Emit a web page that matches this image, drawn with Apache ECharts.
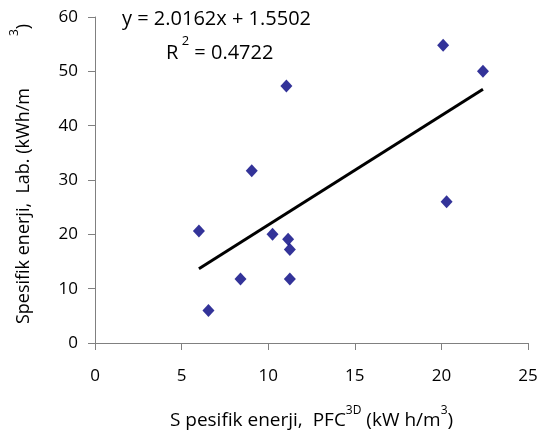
<!DOCTYPE html>
<html>
<head>
<meta charset="utf-8">
<script src="https://cdn.jsdelivr.net/npm/echarts@6/dist/echarts.min.js"></script>
<style>
html,body{margin:0;padding:0;background:#fff;}
#chart{width:542px;height:431px;}
</style>
</head>
<body>
<div id="chart"></div>
<script>
// Data
const pfcValues = [20.1, 22.4, 11.05, 9.05, 20.3, 6.0, 10.25, 11.15, 11.25, 8.4, 11.25, 6.55];
const labValues = [54.8, 50.0, 47.3, 31.7, 26.0, 20.6, 20.0, 19.1, 17.2, 11.8, 11.8, 6.0];
const xTicks = [0, 5, 10, 15, 20, 25];
const yTicks = [0, 10, 20, 30, 40, 50, 60];
const trendSlope = 2.0162;
const trendIntercept = 1.5502;
const trendRange = [6.0, 22.4];

const points = pfcValues.map((x, i) => [x, labValues[i]]);
const trendPoints = trendRange.map(x => [x, trendSlope * x + trendIntercept]);

const FONT = 'Open Sans';
const chart = echarts.init(document.getElementById('chart'), null, {renderer: 'canvas'});
chart.setOption({
  animation: false,
  backgroundColor: '#ffffff',
  grid: {left: 95, right: 14, top: 17, bottom: 88, containLabel: false, outerBoundsMode: 'none'},
  xAxis: {
    type: 'value', min: xTicks[0], max: xTicks[xTicks.length - 1], interval: 5,
    splitLine: {show: false},
    axisLine: {show: true, lineStyle: {color: '#808080', width: 1}},
    axisTick: {show: true, inside: false, length: 7, lineStyle: {color: '#808080'}},
    axisLabel: {color: '#000', fontSize: 17, fontFamily: FONT, margin: 25},
    name: '{n|S pesifik enerji,  PFC}{s|3D}{n| (kW h/m}{s|3}{n|)}',
    nameLocation: 'middle', nameGap: 62,
    nameTextStyle: {
      rich: {
        n: {fontSize: 19, fontFamily: FONT, color: '#000', lineHeight: 25, verticalAlign: 'bottom'},
        s: {fontSize: 12, fontFamily: FONT, color: '#000', lineHeight: 25, verticalAlign: 'top'}
      }
    }
  },
  yAxis: {
    type: 'value', min: yTicks[0], max: yTicks[yTicks.length - 1], interval: 10,
    splitLine: {show: false},
    axisLine: {show: true, lineStyle: {color: '#808080', width: 1}},
    axisTick: {show: true, inside: false, length: 7, lineStyle: {color: '#808080'}},
    axisLabel: {color: '#000', fontSize: 17, fontFamily: FONT, margin: 17},
    name: '{n|Spesifik enerji,  Lab. (kWh/m}{g|}{s|3}{n|)}',
    nameLocation: 'middle', nameGap: 62, nameRotate: 90,
    nameTextStyle: {
      padding: [0, 0, 0, 12],
      rich: {
        n: {fontSize: 18, fontFamily: FONT, color: '#000', lineHeight: 24, verticalAlign: 'bottom'},
        g: {width: 52, fontSize: 18, lineHeight: 24},
        s: {fontSize: 12, fontFamily: FONT, color: '#000', lineHeight: 24, verticalAlign: 'top'}
      }
    }
  },
  graphic: [
    {type: 'text', left: 122, top: 9, style: {text: 'y = 2.0162x + 1.5502', fontSize: 20, fontFamily: FONT, fill: '#000'}},
    {type: 'text', left: 166, top: 35, style: {
      text: '{n|R}{s| 2}{n| = 0.4722}',
      rich: {
        n: {fontSize: 20, fontFamily: FONT, fill: '#000', lineHeight: 28, verticalAlign: 'bottom'},
        s: {fontSize: 13, fontFamily: FONT, fill: '#000', lineHeight: 28, verticalAlign: 'top'}
      }
    }}
  ],
  series: [
    {
      type: 'line', data: trendPoints, showSymbol: false, symbol: 'none',
      lineStyle: {color: '#000', width: 3}, silent: true, z: 2
    },
    {
      type: 'scatter', data: points, symbol: 'diamond', symbolSize: [12, 13],
      itemStyle: {color: '#000080'}, z: 3
    }
  ]
});
</script>
</body>
</html>
